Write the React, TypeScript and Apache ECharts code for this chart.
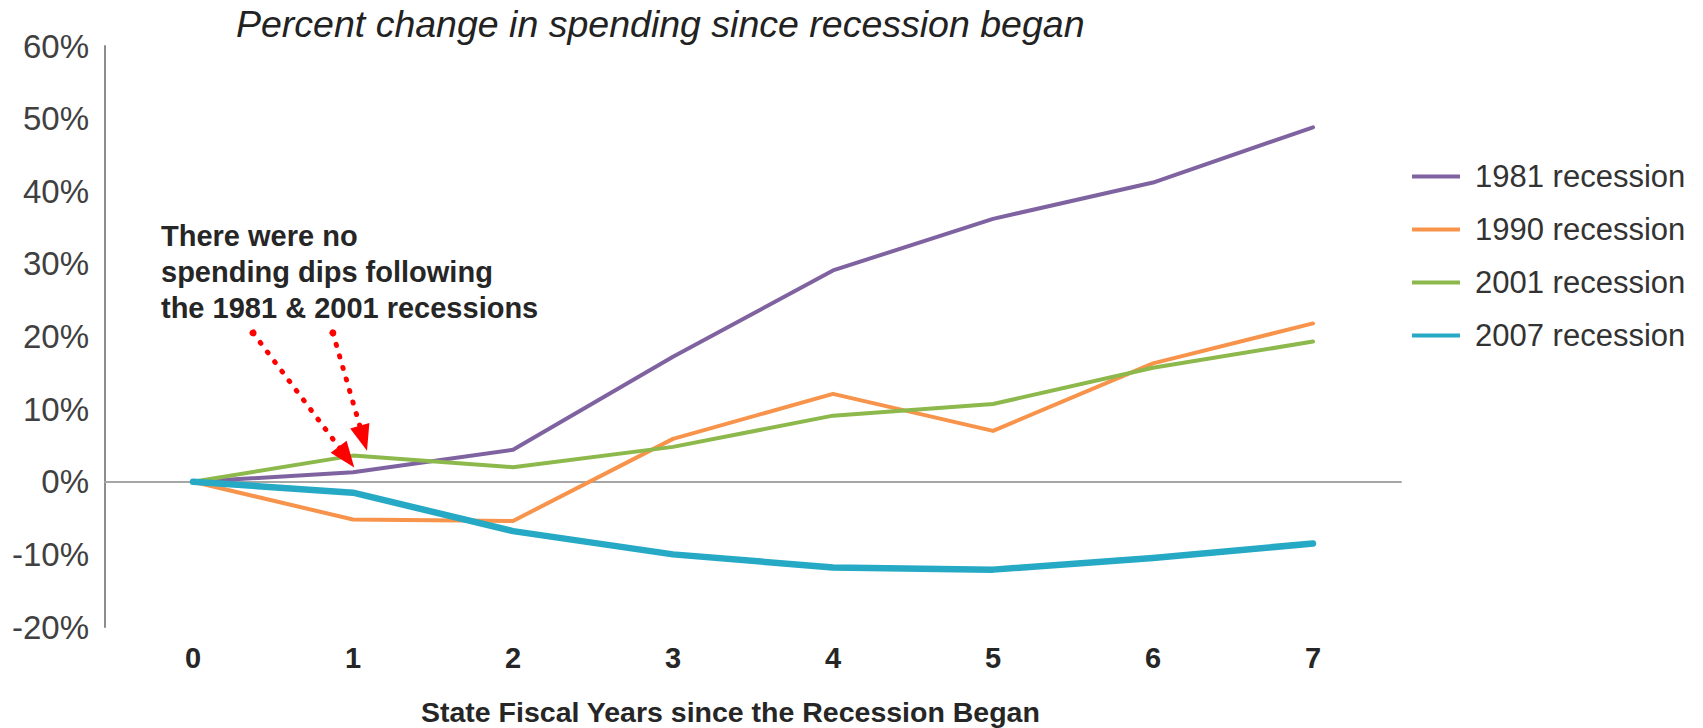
import React, { useEffect, useRef } from "react";
import * as echarts from "echarts";

const years = [0, 1, 2, 3, 4, 5, 6, 7];
const seriesNames = ["1981 recession", "1990 recession", "2001 recession", "2007 recession"];
const rec1981 = [0, 1.3, 4.4, 17.2, 29.1, 36.2, 41.2, 48.8];
const rec1990 = [0, -5.2, -5.4, 5.9, 12.1, 7.0, 16.3, 21.8];
const rec2001 = [0, 3.6, 2.0, 4.8, 9.1, 10.7, 15.7, 19.3];
const rec2007 = [0, -1.5, -6.8, -10.0, -11.8, -12.1, -10.5, -8.5];
const colors = ["#7f63a1", "#f7934a", "#8cb84c", "#25a9c4"];
const lineWidths = [4, 4, 4, 6.5];

const titleText = "Percent change in spending since recession began";
const xTitleText = "State Fiscal Years since the Recession Began";
const noteText = "There were no\nspending dips following\nthe 1981 & 2001 recessions";

// annotation arrows in data space: [start, end]
const arrowStarts = [[0.375, 20.5], [0.874, 20.5]];
const arrowEnds = [[0.959, 3.4], [1.065, 6.0]];

const FONT = "'Liberation Sans', Arial, sans-serif";

export default function App() {
  const ref = useRef<HTMLDivElement>(null);
  useEffect(() => {
    const chart = echarts.init(ref.current!, null, { renderer: "svg" });
    const allData = [rec1981, rec1990, rec2001, rec2007];
    const series: any[] = allData.map((arr, k) => ({
      name: seriesNames[k],
      type: "line",
      xAxisIndex: 0,
      yAxisIndex: 0,
      data: years.map((x, i) => [x, arr[i]]),
      showSymbol: false,
      symbol: "none",
      lineStyle: { color: colors[k], width: lineWidths[k], join: "round", cap: "round" },
      itemStyle: { color: colors[k] },
      emphasis: { disabled: true },
      silent: true,
    }));
    series[3].markLine = {
      silent: true,
      label: { show: false },
      emphasis: { disabled: true },
      lineStyle: { color: "#ff0000", width: 5, type: [1, 11], cap: "round" },
      itemStyle: { color: "#ff0000" },
      data: arrowStarts.map((s, i) => [
        { coord: s, symbol: "circle", symbolSize: 7, itemStyle: { color: "#ff0000" } },
        { coord: arrowEnds[i], symbol: "triangle", symbolSize: [20, 26], itemStyle: { color: "#ff0000" } },
      ]),
    };
    chart.setOption({
      animation: false,
      backgroundColor: "#ffffff",
      textStyle: { fontFamily: FONT },
      title: [
        {
          text: titleText,
          left: 236,
          top: 5,
          padding: 0,
          textStyle: { fontFamily: FONT, fontStyle: "italic", fontWeight: "normal", fontSize: 37.5, color: "#222222" },
        },
        {
          text: xTitleText,
          left: 421,
          top: 697,
          padding: 0,
          textStyle: { fontFamily: FONT, fontWeight: "bold", fontSize: 28.5, lineHeight: 29, color: "#262626" },
        },
      ],
      legend: {
        orient: "vertical",
        left: 1412,
        top: 161,
        padding: 0,
        itemWidth: 48,
        itemHeight: 4,
        itemGap: 22,
        icon: "rect",
        data: seriesNames,
        textStyle: { fontFamily: FONT, fontSize: 31, color: "#333333", lineHeight: 31, padding: [0, 0, 0, 10] },
        selectedMode: false,
      },
      grid: { left: 105, right: 302, top: 46, bottom: 101, containLabel: false },
      xAxis: [
        {
          type: "value",
          min: -0.55,
          max: 7.55,
          axisLine: { show: true, onZero: true, lineStyle: { color: "#a6a6a6", width: 2 } },
          axisTick: { show: false },
          axisLabel: { show: false },
          splitLine: { show: false },
        },
        {
          type: "value",
          min: -0.55,
          max: 7.55,
          position: "bottom",
          axisLine: { show: false, onZero: false },
          axisTick: { show: false },
          splitLine: { show: false },
          axisLabel: {
            customValues: years,
            fontFamily: FONT,
            fontWeight: "bold",
            fontSize: 29,
            lineHeight: 29,
            color: "#262626",
            margin: 16,
            formatter: (v: number) => String(v),
          },
        },
      ],
      yAxis: {
        type: "value",
        min: -20,
        max: 60,
        interval: 10,
        axisLine: { show: true, onZero: false, lineStyle: { color: "#8c8c8c", width: 2 } },
        axisTick: { show: false },
        splitLine: { show: false },
        axisLabel: { formatter: "{value}%", fontFamily: FONT, fontSize: 33, color: "#404040", margin: 16 },
      },
      graphic: [
        {
          type: "text",
          left: 161,
          top: 218,
          silent: true,
          style: { text: noteText, font: `bold 29px ${FONT}`, lineHeight: 36, fill: "#262626" },
        },
      ],
      series,
    });
    return () => chart.dispose();
  }, []);
  return (
    <div
      ref={ref}
      style={{ position: "fixed", left: 0, top: 0, width: 1703, height: 728, background: "#fff" }}
    />
  );
}
